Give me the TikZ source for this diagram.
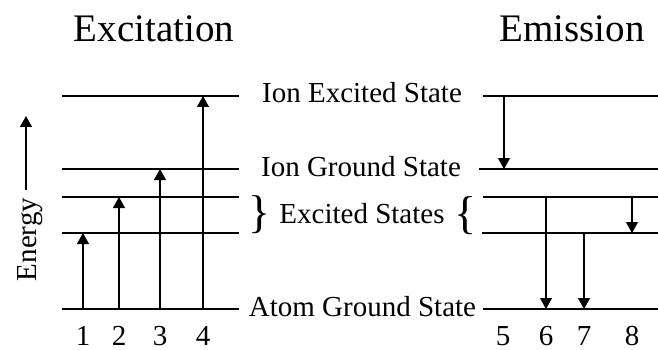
\documentclass[tikz,border=0pt]{standalone}
\usepackage{fontspec}
\setmainfont{Liberation Serif}
\usetikzlibrary{arrows.meta}
\tikzset{
  level/.style={line width=1.1pt},
  trans/.style={line width=1.1pt,-{Triangle[width=12pt,length=11pt]}},
  lbl/.style={font=\fontsize{29}{32}\selectfont,inner sep=0pt,anchor=base},
  ttl/.style={font=\fontsize{39}{42}\selectfont,inner sep=0pt,anchor=base},
  brc/.style={font=\fontsize{46}{48}\selectfont,inner sep=0pt,anchor=center},
}
\begin{document}
\begin{tikzpicture}[x=1pt,y=-1pt]
\useasboundingbox (0,0) rectangle (658,350);
% titles
\node[ttl] (t1) at (154,41.7) {Excitation};
\node[ttl] (t2) at (572,41.7) {Emission};
% left levels
\foreach \n/\y in {a/96,b/169,c/197,d/233,e/309}{
  \coordinate (L\n1) at (62,\y);
  \coordinate (L\n2) at (239,\y);
  \draw[level] (L\n1) -- (L\n2);
}
% right levels
\foreach \n/\xs/\y in {a/483/96,b/479/169,c/483/197,d/482/233,e/483/309}{
  \coordinate (R\n1) at (\xs,\y);
  \coordinate (R\n2) at (658,\y);
  \draw[level] (R\n1) -- (R\n2);
}
% excitation arrows
\coordinate (x1s) at (83,309);  \coordinate (x1e) at (83,233);
\coordinate (x2s) at (119,309); \coordinate (x2e) at (119,197);
\coordinate (x3s) at (160,309); \coordinate (x3e) at (160,169);
\coordinate (x4s) at (203,309); \coordinate (x4e) at (203,96);
\draw[trans] (x1s) -- (x1e);
\draw[trans] (x2s) -- (x2e);
\draw[trans] (x3s) -- (x3e);
\draw[trans] (x4s) -- (x4e);
% emission arrows
\coordinate (m5s) at (504,96);  \coordinate (m5e) at (504,169);
\coordinate (m6s) at (546,197); \coordinate (m6e) at (546,309);
\coordinate (m7s) at (584,233); \coordinate (m7e) at (584,309);
\coordinate (m8s) at (632,197); \coordinate (m8e) at (632,233);
\draw[trans] (m5s) -- (m5e);
\draw[trans] (m6s) -- (m6e);
\draw[trans] (m7s) -- (m7e);
\draw[trans] (m8s) -- (m8e);
% numbers
\foreach \k/\x in {1/83,2/119,3/160,4/203,5/503,6/546,7/584,8/632}{
  \node[lbl] (n\k) at (\x,345) {\k};
}
% state labels
\node[lbl] (s1) at (362,102.7) {Ion Excited State};
\node[lbl] (s2) at (361,176.7) {Ion Ground State};
\node[lbl] (s3) at (362,223) {Excited States};
\node[lbl] (s4) at (362.5,316.7) {Atom Ground State};
\node[brc] (b1) at (259.5,215) {\}};
\node[brc] (b2) at (466,216) {\{};
% energy axis
\node[lbl,rotate=90] (en) at (36,239.5) {Energy};
\coordinate (e1) at (26,190);
\coordinate (e2) at (26,116);
\draw[trans] (e1) -- (e2);
\end{tikzpicture}
\end{document}
